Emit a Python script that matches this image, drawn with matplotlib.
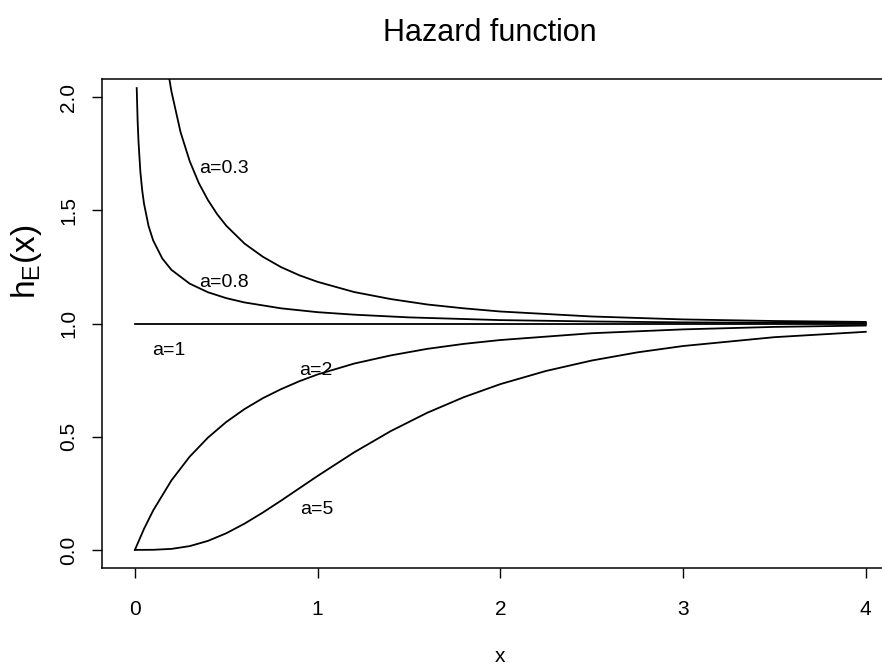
import matplotlib
matplotlib.use("Agg")
import matplotlib.pyplot as plt

plt.rcParams['font.family'] = ['Liberation Sans', 'DejaVu Sans']
plt.rcParams['mathtext.fontset'] = 'custom'
plt.rcParams['mathtext.rm'] = 'Liberation Sans'
plt.rcParams['mathtext.it'] = 'Liberation Sans'

# ---- data ----
x_a03 = [0.15, 0.175, 0.2, 0.25, 0.3, 0.35, 0.4, 0.45, 0.5, 0.6, 0.7, 0.8, 0.9, 1.0, 1.2, 1.4, 1.6, 1.8,
         2.0, 2.5, 3.0, 3.5, 4.0]
h_a03 = [2.30, 2.146, 2.025, 1.845, 1.717, 1.620, 1.545, 1.483, 1.432, 1.353, 1.295, 1.249, 1.213, 1.184,
         1.139, 1.108, 1.084, 1.067, 1.053, 1.031, 1.018, 1.011, 1.007]

x_a08 = [0.01, 0.015, 0.02, 0.03, 0.04, 0.05, 0.075, 0.1, 0.15, 0.2, 0.3, 0.4, 0.5, 0.6, 0.8, 1.0, 1.2,
         1.5, 2.0, 2.5, 3.0, 4.0]
h_a08 = [2.04, 1.894, 1.80, 1.67, 1.588, 1.529, 1.430, 1.367, 1.287, 1.237, 1.176, 1.138, 1.112, 1.093,
         1.067, 1.050, 1.039, 1.027, 1.015, 1.009, 1.005, 1.002]

x_a1 = [0.0, 4.0]
h_a1 = [1.0, 1.0]

x_a2 = [0.0, 0.05, 0.1, 0.2, 0.3, 0.4, 0.5, 0.6, 0.7, 0.8, 0.9, 1.0, 1.2, 1.4, 1.6, 1.8, 2.0, 2.5, 3.0, 3.5, 4.0]
h_a2 = [0.0, 0.093, 0.174, 0.307, 0.412, 0.496, 0.565, 0.622, 0.670, 0.710, 0.745, 0.775, 0.823, 0.859,
        0.888, 0.910, 0.927, 0.957, 0.974, 0.985, 0.991]

x_a5 = [0.0, 0.1, 0.2, 0.3, 0.4, 0.5, 0.6, 0.7, 0.8, 0.9, 1.0, 1.2, 1.4, 1.6, 1.8, 2.0, 2.25, 2.5, 2.75, 3.0, 3.5, 4.0]
h_a5 = [0.0, 0.0004, 0.0044, 0.0167, 0.0398, 0.0734, 0.1159, 0.1648, 0.2176, 0.2721, 0.3266, 0.4309,
        0.5246, 0.6057, 0.6745, 0.7322, 0.7904, 0.8364, 0.8725, 0.9005, 0.9396, 0.9633]

curve_labels = ["a=0.3", "a=0.8", "a=1", "a=2", "a=5"]
label_x = [0.487, 0.487, 0.186, 0.99, 0.996]
label_y = [1.686, 1.181, 0.881, 0.792, 0.177]

x_ticks = [0, 1, 2, 3, 4]
x_tick_labels = ["0", "1", "2", "3", "4"]
y_ticks = [0.0, 0.5, 1.0, 1.5, 2.0]
y_tick_labels = ["0.0", "0.5", "1.0", "1.5", "2.0"]

# ---- figure ----
W, H = 882, 667
fig = plt.figure(figsize=(W / 100, H / 100), dpi=100)
ax = fig.add_axes([102 / W, (H - 568) / H, (895 - 102) / W, (568 - 79) / H])

for xs, hs in [(x_a03, h_a03), (x_a08, h_a08), (x_a1, h_a1), (x_a2, h_a2), (x_a5, h_a5)]:
    ax.plot(xs, hs, color='black', lw=1.3, solid_joinstyle='round')

for t, lx, ly in zip(curve_labels, label_x, label_y):
    ax.text(lx, ly, t, ha='center', va='center', fontsize=14, color='black')

ax.set_xlim(-0.18, 4.16)
ax.set_ylim(-0.08, 2.08)
ax.set_xticks(x_ticks)
ax.set_xticklabels(x_tick_labels, fontsize=15)
ax.set_yticks(y_ticks)
ax.set_yticklabels(y_tick_labels, fontsize=15, rotation=90, va='center')
ax.tick_params(axis='x', direction='out', length=7, width=1, pad=16)
ax.tick_params(axis='y', direction='out', length=7, width=1, pad=10)
for s in ax.spines.values():
    s.set_linewidth(1.1)
ax.spines['right'].set_visible(False)

fig.text(490 / W, 1 - 33 / H, "Hazard function", ha='center', va='center', fontsize=22)
fig.text(500 / W, 1 - 656 / H, "x", ha='center', va='center', fontsize=15)
fig.text(27 / W, 1 - 262 / H, r"$\mathregular{h_E(x)}$", ha='center', va='center',
         fontsize=24, rotation=90)

fig.savefig("out.png", dpi=100)
